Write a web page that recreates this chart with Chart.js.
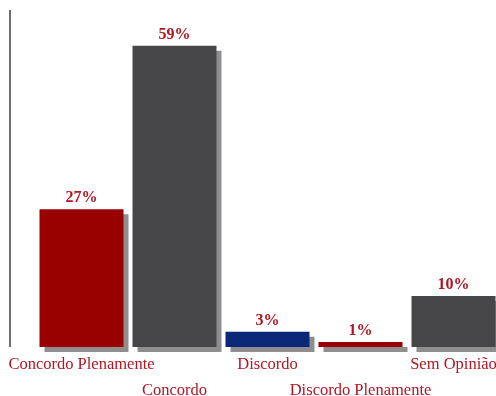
<!DOCTYPE html>
<html>
<head>
<meta charset="utf-8">
<script src="https://cdn.jsdelivr.net/npm/chart.js@4.4.1/dist/chart.umd.min.js"></script>
<style>
  html, body { margin: 0; padding: 0; background: #fff; overflow: hidden; width: 496px; height: 396px; }
  #wrap { position: absolute; left: 0; top: 0; width: 500px; height: 396px; }
</style>
</head>
<body>
<div id="wrap"><canvas id="c"></canvas></div>
<script>
// Survey answers and their shares (%)
const categories = ['Concordo Plenamente', 'Concordo', 'Discordo', 'Discordo Plenamente', 'Sem Opinião'];
const percentages = [27, 59, 3, 1, 10];
const barColors = ['#990000', '#464648', '#0B2777', '#990000', '#464648'];

// Alternate labels between two rows so the long names do not collide
const tickLabels = categories.map((name, i) => (i % 2 === 0 ? [name] : ['', name]));

const textRed = '#B01624';

// Hard drop shadow under every bar
const barShadow = {
  id: 'barShadow',
  beforeDatasetsDraw(chart) {
    const ctx = chart.ctx;
    ctx.save();
    ctx.shadowColor = '#8e8e8e';
    ctx.shadowOffsetX = 5;
    ctx.shadowOffsetY = 5;
    ctx.shadowBlur = 0;
  },
  afterDatasetsDraw(chart) {
    chart.ctx.restore();
  }
};

// Value labels above the bars and the vertical axis rule on the left
const decorations = {
  id: 'decorations',
  afterDatasetsDraw(chart) {
    const ctx = chart.ctx;
    const meta = chart.getDatasetMeta(0);
    ctx.save();
    ctx.fillStyle = textRed;
    ctx.font = 'bold 16px "Liberation Serif", "Times New Roman", serif';
    ctx.textAlign = 'center';
    ctx.textBaseline = 'alphabetic';
    meta.data.forEach((bar, i) => {
      ctx.fillText(percentages[i] + '%', bar.x, bar.y - 7);
    });
    const y = chart.scales.y;
    ctx.strokeStyle = '#6e6e6e';
    ctx.lineWidth = 2;
    ctx.beginPath();
    ctx.moveTo(10, chart.chartArea.top);
    ctx.lineTo(10, y.getPixelForValue(0));
    ctx.stroke();
    ctx.restore();
  }
};

new Chart(document.getElementById('c'), {
  type: 'bar',
  data: {
    labels: tickLabels,
    datasets: [{
      data: percentages,
      backgroundColor: barColors,
      borderWidth: 0,
      clip: false,
      categoryPercentage: 1,
      barPercentage: 0.903
    }]
  },
  options: {
    responsive: true,
    maintainAspectRatio: false,
    animation: false,
    layout: { padding: { left: 35, right: 0, top: 10, bottom: 0 } },
    plugins: { legend: { display: false }, tooltip: { enabled: false } },
    scales: {
      y: {
        display: false,
        min: 0,
        max: 66
      },
      x: {
        grid: { display: false },
        border: { display: false },
        afterFit(scale) { scale.height = 49; },
        ticks: {
          autoSkip: false,
          maxRotation: 0,
          minRotation: 0,
          padding: -4,
          color: textRed,
          font: { family: '"Liberation Serif", "Times New Roman", serif', size: 16.5, lineHeight: 1.6 }
        }
      }
    }
  },
  plugins: [barShadow, decorations]
});
</script>
</body>
</html>
